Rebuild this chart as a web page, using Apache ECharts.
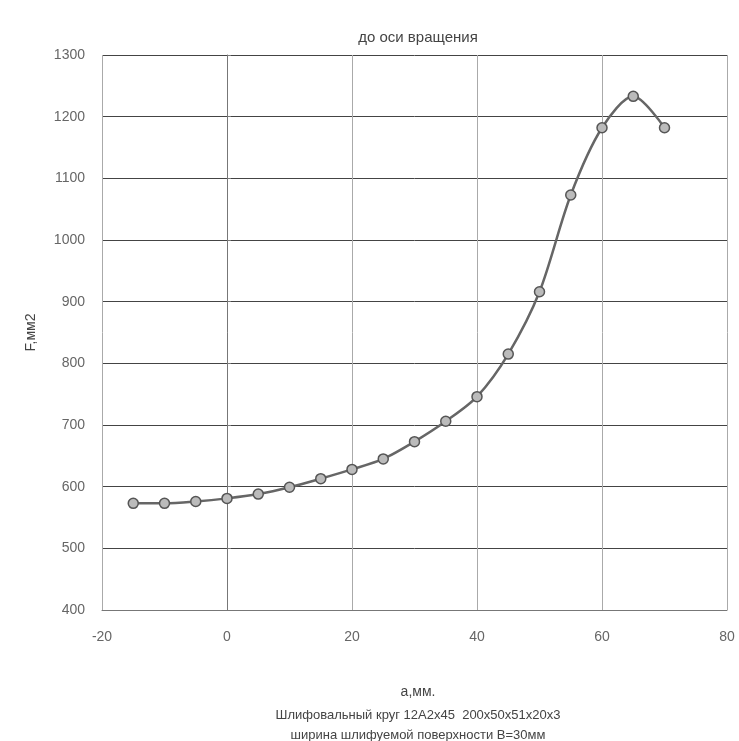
<!DOCTYPE html>
<html><head><meta charset="utf-8">
<script src="https://cdn.jsdelivr.net/npm/echarts@6/dist/echarts.min.js"></script>
<style>html,body{margin:0;padding:0;background:#fff}#c{width:739px;height:741px}</style>
</head><body><div id="c"></div>
<script>
const xValues = [-15,-10,-5,0,5,10,15,20,25,30,35,40,45,50,55,60,65,70];
const fValues = [573,573,576,581,588,599,613,628,645,673,706,746,815,916,1073,1182,1233,1182];
const titleText = 'до оси вращения';
const xAxisName = 'а,мм.';
const yAxisName = 'F,мм2';
const caption1 = 'Шлифовальный круг 12А2х45  200х50х51х20х3';
const caption2 = 'ширина шлифуемой поверхности В=30мм';

const font = 'Liberation Sans, Arial, sans-serif';
const chart = echarts.init(document.getElementById('c'));
chart.setOption({
  animation:false,
  backgroundColor:'#fff',
  title:[
    {text:titleText,left:413,top:25,textAlign:'center',textStyle:{fontFamily:font,fontSize:15,fontWeight:'normal',color:'#444'}},
    {text:caption1,left:413,top:704,textAlign:'center',textStyle:{fontFamily:font,fontSize:13,fontWeight:'normal',color:'#444'}},
    {text:caption2,left:413,top:724,textAlign:'center',textStyle:{fontFamily:font,fontSize:13,fontWeight:'normal',color:'#444'}},
    {text:xAxisName,left:413,top:680,textAlign:'center',textStyle:{fontFamily:font,fontSize:14,fontWeight:'normal',color:'#444'}}
  ],
  grid:{left:102,right:12,top:55,bottom:131},
  xAxis:{type:'value',min:-20,max:80,interval:20,
    axisLine:{show:true,lineStyle:{color:'#777'}},axisTick:{show:false},
    axisLabel:{fontFamily:font,fontSize:14,color:'#666',margin:20,formatter:v=>String(v)},
    splitLine:{show:true,lineStyle:{color:'#aaa',width:1}}},
  yAxis:{type:'value',min:400,max:1300,interval:100,
    name:yAxisName,nameLocation:'middle',nameGap:64,nameRotate:90,
    nameTextStyle:{fontFamily:font,fontSize:14,color:'#444'},
    axisLine:{show:true,lineStyle:{color:'#777'}},axisTick:{show:true,length:4,inside:true,lineStyle:{color:'#777'}},
    axisLabel:{fontFamily:font,fontSize:14,color:'#666',margin:17,formatter:v=>String(v)},
    splitLine:{show:true,lineStyle:{color:'#444',width:1}}},
  series:[{type:'line',data:xValues.map((x,i)=>[x,fValues[i]]),smooth:0.3,
    lineStyle:{color:'#666',width:2.5},
    symbol:'circle',symbolSize:10,
    itemStyle:{color:'#bbb',borderColor:'#555',borderWidth:1.5}}]
});
</script></body></html>
